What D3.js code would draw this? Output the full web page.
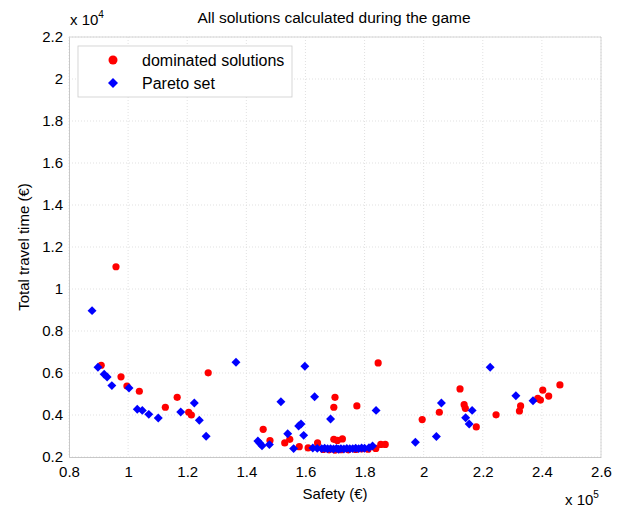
<!DOCTYPE html>
<html>
<head>
<meta charset="utf-8">
<script src="https://cdn.jsdelivr.net/npm/d3@7"></script>
<style>
  body { margin: 0; background: #fff; }
  text { font-family: "Liberation Sans", Arial, Helvetica, sans-serif; fill: #000; }
</style>
</head>
<body>
<script>
// safety in units of 1e5, travel time in units of 1e4
var domSafety = [0.959, 0.909, 0.976, 0.996, 1.038, 1.126, 1.166, 1.205, 1.214, 1.271,
  1.846, 1.700, 1.696, 1.774, 1.995, 1.457, 1.480, 1.530, 1.547, 1.579, 1.609, 1.641,
  1.696, 1.708, 1.725, 1.855, 1.870, 1.838, 1.812, 2.123, 2.137, 2.141, 2.053, 2.178,
  2.245, 2.324, 2.328, 2.386, 2.395, 2.403, 2.423, 2.461,
  1.660, 1.680, 1.700, 1.720, 1.745, 1.770, 1.790];
var domTime = [1.106, 0.637, 0.582, 0.538, 0.513, 0.437, 0.484, 0.413, 0.400, 0.601,
  0.648, 0.484, 0.437, 0.443, 0.378, 0.332, 0.278, 0.267, 0.284, 0.249, 0.243, 0.267,
  0.284, 0.279, 0.286, 0.260, 0.260, 0.241, 0.237, 0.524, 0.449, 0.432, 0.413, 0.343,
  0.401, 0.419, 0.443, 0.479, 0.471, 0.518, 0.490, 0.543,
  0.236, 0.234, 0.233, 0.235, 0.234, 0.236, 0.238];

var paretoSafety = [0.878, 0.898, 0.919, 0.929, 0.945, 1.003, 1.031, 1.048, 1.070, 1.102,
  1.178, 1.224, 1.241, 1.264, 1.365, 1.598, 1.517, 1.631, 1.685, 1.839, 1.577, 1.585,
  1.594, 1.540, 1.439, 1.446, 1.453, 1.478, 1.560, 1.972, 1.827, 2.225, 2.312, 2.370,
  2.060, 2.164, 2.142, 2.154, 2.043,
  1.625, 1.640, 1.655, 1.665, 1.675, 1.685, 1.695, 1.705, 1.712, 1.720, 1.730, 1.740,
  1.750, 1.760, 1.770, 1.780, 1.790, 1.800, 1.815];
var paretoTime = [0.897, 0.627, 0.594, 0.581, 0.540, 0.529, 0.427, 0.422, 0.403, 0.386,
  0.414, 0.457, 0.375, 0.299, 0.651, 0.632, 0.463, 0.487, 0.381, 0.422, 0.348, 0.357,
  0.303, 0.311, 0.276, 0.265, 0.254, 0.259, 0.240, 0.270, 0.252, 0.627, 0.492, 0.468,
  0.457, 0.422, 0.387, 0.357, 0.298,
  0.243, 0.241, 0.240, 0.242, 0.239, 0.240, 0.238, 0.241, 0.237, 0.240, 0.238, 0.241,
  0.239, 0.240, 0.242, 0.240, 0.243, 0.242, 0.244];

var xTicks = [0.8, 1, 1.2, 1.4, 1.6, 1.8, 2, 2.2, 2.4, 2.6];
var yTicks = [0.2, 0.4, 0.6, 0.8, 1, 1.2, 1.4, 1.6, 1.8, 2, 2.2];

var dominated = domSafety.map(function(s, i) { return { x: s * 1e5, y: domTime[i] * 1e4 }; });
var pareto = paretoSafety.map(function(s, i) { return { x: s * 1e5, y: paretoTime[i] * 1e4 }; });

var W = 625, H = 510;
var margin = { top: 37, right: 24, bottom: 53, left: 69 };
var width = W - margin.left - margin.right,
    height = H - margin.top - margin.bottom;

var x = d3.scaleLinear().domain([0.8e5, 2.6e5]).range([0, width]);
var y = d3.scaleLinear().domain([0.2e4, 2.2e4]).range([height, 0]);

var svg = d3.select("body").append("svg")
  .attr("width", W).attr("height", H);

var g = svg.append("g")
  .attr("transform", "translate(" + margin.left + "," + margin.top + ")");

// grid
g.append("g").selectAll("line").data(xTicks).enter().append("line")
  .attr("x1", function(d) { return x(d * 1e5); })
  .attr("x2", function(d) { return x(d * 1e5); })
  .attr("y1", 0).attr("y2", height)
  .attr("stroke", "#d9d9d9").attr("stroke-width", 0.8).attr("stroke-dasharray", "1,2");
g.append("g").selectAll("line").data(yTicks).enter().append("line")
  .attr("y1", function(d) { return y(d * 1e4); })
  .attr("y2", function(d) { return y(d * 1e4); })
  .attr("x1", 0).attr("x2", width)
  .attr("stroke", "#d9d9d9").attr("stroke-width", 0.8).attr("stroke-dasharray", "1,2");

// axes
var xAxis = g.append("g")
  .attr("transform", "translate(0," + height + ")")
  .call(d3.axisBottom(x).tickValues(xTicks.map(function(d) { return d * 1e5; }))
    .tickFormat(function(d) { return d3.format("")(+(d / 1e5).toFixed(1)); })
    .tickSize(0).tickPadding(9));
var yAxis = g.append("g")
  .call(d3.axisLeft(y).tickValues(yTicks.map(function(d) { return d * 1e4; }))
    .tickFormat(function(d) { return d3.format("")(+(d / 1e4).toFixed(1)); })
    .tickSize(0).tickPadding(6));
[xAxis, yAxis].forEach(function(a) {
  a.select(".domain").attr("stroke", "#bbb").attr("stroke-width", 0.8);
  a.selectAll("text").style("font-size", "15px").attr("fill", "#000");
});
// box
g.append("line").attr("x1", width).attr("x2", width).attr("y1", 0).attr("y2", height)
  .attr("stroke", "#ccc").attr("stroke-width", 0.8);
g.append("line").attr("x1", 0).attr("x2", width).attr("y1", 0).attr("y2", 0)
  .attr("stroke", "#ccc").attr("stroke-width", 0.8);

// points
g.append("g").selectAll("circle").data(dominated).enter().append("circle")
  .attr("cx", function(d) { return x(d.x); })
  .attr("cy", function(d) { return y(d.y); })
  .attr("r", 3.6)
  .attr("fill", "#ff0000");

var diamond = d3.symbol().type(d3.symbolSquare).size(40);
g.append("g").selectAll("path").data(pareto).enter().append("path")
  .attr("d", diamond)
  .attr("transform", function(d) { return "translate(" + x(d.x) + "," + y(d.y) + ") rotate(45)"; })
  .attr("fill", "#0000ff");

// legend
var leg = svg.append("g").attr("transform", "translate(78,46)");
leg.append("rect").attr("width", 214).attr("height", 51)
  .attr("fill", "#fff").attr("stroke", "#ccc").attr("stroke-width", 0.8);
leg.append("circle").attr("cx", 35).attr("cy", 14).attr("r", 4.5).attr("fill", "#ff0000");
leg.append("path").attr("d", d3.symbol().type(d3.symbolSquare).size(50))
  .attr("transform", "translate(35,37) rotate(45)").attr("fill", "#0000ff");
leg.append("text").attr("x", 64).attr("y", 14).attr("dy", "0.35em")
  .style("font-size", "16px").text("dominated solutions");
leg.append("text").attr("x", 64).attr("y", 37).attr("dy", "0.35em")
  .style("font-size", "16px").text("Pareto set");

// titles
svg.append("text").attr("x", 334).attr("y", 23)
  .attr("text-anchor", "middle").style("font-size", "15.5px")
  .text("All solutions calculated during the game");
svg.append("text").attr("x", margin.left + width / 2).attr("y", 499)
  .attr("text-anchor", "middle").style("font-size", "15px")
  .text("Safety (€)");
svg.append("text")
  .attr("transform", "translate(29," + (margin.top + height / 2) + ") rotate(-90)")
  .attr("text-anchor", "middle").style("font-size", "15px")
  .text("Total travel time (€)");

// exponent labels
var e4 = svg.append("text").attr("x", 70).attr("y", 25).style("font-size", "15px");
e4.append("tspan").text("x 10");
e4.append("tspan").attr("dy", -7).style("font-size", "10px").text("4");
var e5 = svg.append("text").attr("x", 565).attr("y", 505).style("font-size", "15px");
e5.append("tspan").text("x 10");
e5.append("tspan").attr("dy", -7).style("font-size", "10px").text("5");
</script>
</body>
</html>
